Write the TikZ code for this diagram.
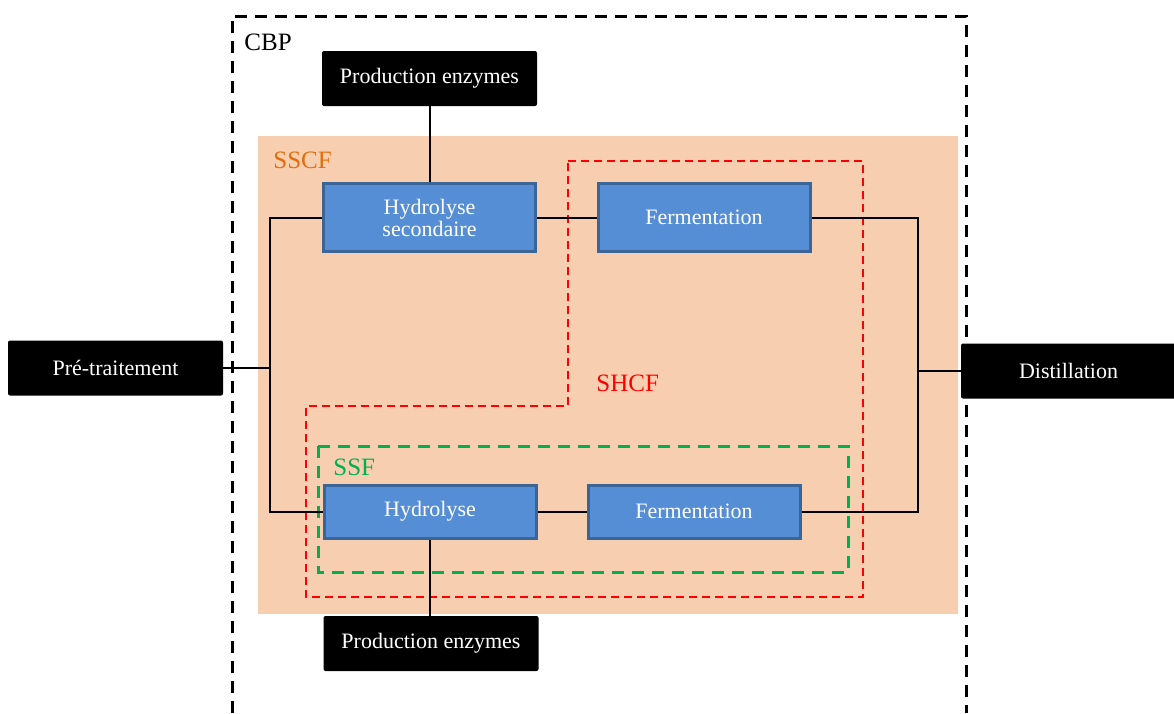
\documentclass[tikz,border=0pt]{standalone}
\usepackage{fontspec}
\setmainfont{Liberation Serif}
\definecolor{peach}{HTML}{F7CFB0}
\definecolor{stepblue}{HTML}{558ED5}
\definecolor{stepedge}{HTML}{3B6497}
\definecolor{sscforange}{HTML}{E46C0A}
\definecolor{ssfgreen}{HTML}{00B050}
\tikzset{
  blackbox/.style={fill=black,text=white,rounded corners=1pt,minimum width=107.5pt,minimum height=27.5pt,inner sep=0pt,font=\fontsize{11}{13}\selectfont},
  bluebox/.style={fill=stepblue,draw=stepedge,line width=1.5pt,text=white,minimum width=106pt,inner sep=0pt,align=center,font=\fontsize{11}{13}\selectfont},
  link/.style={line width=1pt},
  grouplabel/.style={anchor=west,inner sep=0pt,font=\fontsize{12.5}{14}\selectfont}
}
\begin{document}
\begin{tikzpicture}[x=0.5pt,y=-0.5pt]
    \useasboundingbox (0,0) rectangle (1174,713);

    % CBP frame
    \draw[line width=1.5pt,dash pattern=on 6pt off 4pt] (232,713) -- (232,16) -- (966,16) -- (966,713);
    \node[grouplabel] (cbp) at (244,42) {CBP};

    % SSCF area
    \fill[peach] (258,136) rectangle (958,614);
    \node[grouplabel,text=sscforange] (sscf) at (273,160) {SSCF};

    % SHCF border
    \draw[red,line width=1pt,dash pattern=on 4pt off 2.5pt] (568,161) -- (863,161) -- (863,597) -- (306,597) -- (306,406) -- (568,406) -- cycle;
    \node[grouplabel,text=red] (shcf) at (596,383) {SHCF};

    % SSF border
    \draw[ssfgreen,line width=1.5pt,dash pattern=on 6pt off 4pt] (318,446) rectangle (848,572);
    \node[grouplabel,text=ssfgreen] (ssf) at (333,467) {SSF};

    % Outer steps
    \node[blackbox] (pretr) at (115.5,368) {Pré-traitement};
    \node[blackbox] (distil) at (1068.5,371) {Distillation};
    \node[blackbox] (enztop) at (429.5,78.5) {Production enzymes};
    \node[blackbox] (enzbot) at (431,643.5) {Production enzymes};

    % Process steps
    \node[bluebox,minimum height=34pt] (hsec) at (429.5,217.5) {Hydrolyse\\[-2pt]secondaire};
    \node[bluebox,minimum height=34pt] (fermtop) at (704,217.5) {Fermentation};
    \node[bluebox,minimum height=26.5pt] (hyd) at (430,511.5) {Hydrolyse};
    \node[bluebox,minimum height=26.5pt] (fermbot) at (694,511.5) {Fermentation};

    % Junctions
    \coordinate (lsplit) at (270,368);
    \coordinate (rjoin) at (918,371);

    % Links
    \draw[link] (pretr.east) -- (lsplit);
    \draw[link] (hsec.west) -| (lsplit) |- (hyd.west);
    \draw[link] (fermtop.east) -| (rjoin) |- (fermbot.east);
    \draw[link] (rjoin) -- (distil.west);
    \draw[link] (hsec.east) -- (fermtop.west);
    \draw[link] (hyd.east) -- (fermbot.west);
    \draw[link] (enztop.south) -- (hsec.north);
    \draw[link] (hyd.south) -- (hyd.south |- enzbot.north);
\end{tikzpicture}
\end{document}
